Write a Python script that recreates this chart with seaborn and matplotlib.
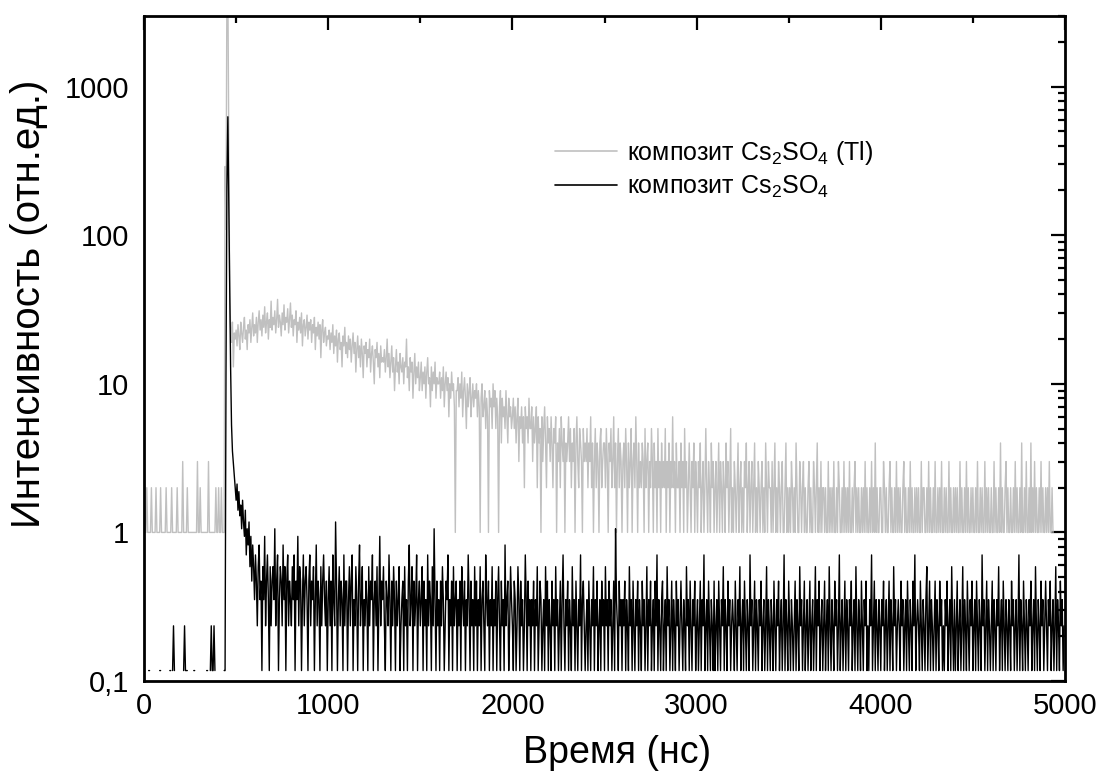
import numpy as np
import pandas as pd
import matplotlib
matplotlib.use("Agg")
import matplotlib.pyplot as plt
import seaborn as sns
from matplotlib.ticker import FixedLocator, MultipleLocator, LogLocator, FuncFormatter, NullFormatter

# ---------------- data ----------------
time_step_ns = 5
black_scale = 0.1176  # counts -> relative units for the undoped composite

# Cs2SO4 (Tl) composite, counts per 5 ns channel (row = 100 ns, starting at 0 ns)
gray_counts = [
    5, 1, 1, 2, 1, 1, 1, 1, 2, 1, 1, 1, 1, 2, 1, 1, 1, 1, 2, 1,
    1, 1, 1, 1, 2, 1, 1, 1, 1, 1, 2, 1, 1, 1, 1, 1, 2, 1, 1, 1,
    1, 1, 3, 1, 1, 1, 1, 2, 1, 1, 1, 1, 1, 1, 1, 1, 1, 1, 3, 1,
    1, 2, 1, 1, 1, 1, 1, 1, 1, 1, 3, 1, 1, 1, 1, 1, 1, 1, 2, 1,
    1, 2, 1, 1, 2, 1, 1, 1, 290, 110, 5000, 5000, 500, 40, 24, 19, 26, 13, 22, 20,
    23, 18, 25, 21, 17, 26, 22, 19, 24, 28, 20, 23, 17, 25, 22, 27, 19, 24, 30, 21,
    25, 22, 28, 19, 26, 31, 23, 27, 21, 29, 24, 33, 22, 26, 30, 20, 27, 24, 36, 23,
    28, 25, 31, 22, 27, 37, 24, 29, 26, 21, 30, 25, 34, 23, 28, 26, 32, 22, 27, 35,
    24, 29, 21, 27, 25, 31, 19, 26, 23, 28, 22, 30, 18, 25, 27, 21, 24, 29, 20, 26,
    23, 27, 19, 25, 22, 28, 17, 24, 21, 26, 20, 25, 15, 23, 27, 19, 22, 24, 18, 21,
    20, 23, 17, 22, 19, 25, 16, 21, 18, 23, 14, 20, 22, 17, 19, 13, 21, 18, 24, 16,
    19, 15, 21, 17, 20, 14, 18, 22, 16, 19, 12, 17, 21, 15, 18, 13, 20, 16, 11, 18,
    16, 19, 13, 17, 15, 20, 12, 16, 18, 14, 10, 17, 15, 19, 13, 16, 11, 18, 14, 15,
    14, 17, 12, 15, 20, 13, 16, 11, 14, 18, 12, 15, 9, 13, 17, 12, 14, 10, 16, 13,
    12, 15, 10, 14, 13, 20, 11, 13, 9, 15, 12, 14, 8, 12, 16, 10, 13, 11, 14, 9,
    11, 14, 9, 12, 10, 13, 8, 12, 15, 10, 11, 7, 13, 9, 12, 10, 14, 8, 11, 10,
    10, 12, 8, 11, 9, 13, 7, 10, 12, 9, 11, 6, 10, 8, 12, 9, 10, 7, 1, 9,
    9, 11, 7, 10, 8, 12, 6, 9, 11, 8, 5, 10, 7, 9, 11, 6, 8, 10, 7, 9,
    8, 10, 6, 9, 7, 1, 8, 10, 6, 7, 9, 5, 8, 6, 1, 9, 7, 8, 5, 10,
    7, 9, 5, 8, 6, 1, 7, 9, 4, 8, 6, 7, 5, 9, 6, 4, 8, 6, 7, 5,
    6, 8, 5, 7, 4, 6, 8, 3, 6, 5, 7, 4, 6, 2, 7, 5, 6, 4, 8, 5,
    5, 7, 3, 6, 4, 5, 7, 2, 6, 4, 5, 1, 6, 3, 5, 7, 4, 2, 6, 4,
    5, 3, 6, 4, 2, 5, 4, 6, 1, 4, 3, 5, 2, 6, 4, 3, 5, 1, 4, 3,
    4, 6, 3, 5, 2, 4, 3, 5, 1, 4, 6, 3, 2, 5, 4, 3, 1, 5, 3, 4,
    3, 5, 2, 4, 3, 6, 2, 4, 1, 3, 5, 2, 4, 3, 1, 4, 5, 2, 3, 4,
    4, 2, 5, 3, 1, 4, 3, 5, 2, 3, 6, 2, 4, 1, 3, 5, 2, 4, 3, 1,
    3, 4, 2, 5, 3, 1, 4, 2, 3, 5, 1, 3, 4, 2, 6, 3, 1, 4, 2, 3,
    2, 4, 3, 1, 5, 2, 3, 4, 1, 3, 2, 5, 3, 1, 4, 2, 3, 1, 5, 2,
    3, 1, 4, 2, 3, 2, 5, 1, 3, 2, 4, 1, 3, 2, 6, 2, 3, 1, 4, 2,
    2, 3, 1, 4, 2, 3, 1, 5, 2, 3, 1, 2, 4, 2, 1, 3, 2, 4, 1, 3,
    2, 1, 3, 2, 4, 1, 2, 3, 1, 2, 5, 2, 1, 3, 2, 1, 4, 2, 3, 1,
    2, 3, 1, 2, 4, 1, 3, 2, 1, 3, 2, 1, 4, 2, 3, 1, 2, 5, 1, 2,
    1, 3, 2, 1, 2, 4, 1, 2, 3, 1, 2, 1, 3, 2, 4, 1, 2, 3, 1, 2,
    3, 1, 2, 4, 1, 2, 1, 3, 2, 1, 2, 3, 1, 2, 1, 4, 2, 1, 3, 2,
    2, 1, 3, 1, 2, 4, 1, 2, 1, 3, 2, 1, 2, 3, 1, 1, 2, 4, 1, 2,
    1, 2, 1, 3, 2, 1, 2, 1, 4, 2, 1, 1, 3, 2, 1, 2, 3, 1, 2, 1,
    1, 2, 3, 1, 2, 1, 1, 3, 2, 1, 2, 4, 1, 2, 1, 3, 1, 2, 2, 1,
    2, 1, 1, 3, 1, 2, 1, 2, 1, 3, 1, 1, 2, 1, 3, 2, 1, 1, 2, 1,
    3, 1, 2, 1, 2, 1, 3, 1, 1, 2, 1, 2, 3, 1, 2, 1, 2, 1, 1, 2,
    1, 2, 1, 3, 1, 2, 1, 1, 2, 1, 3, 1, 2, 1, 4, 1, 2, 1, 1, 2,
    2, 1, 1, 3, 2, 1, 2, 1, 1, 2, 3, 1, 2, 1, 1, 2, 1, 3, 1, 2,
    1, 2, 1, 1, 2, 3, 1, 2, 1, 1, 2, 1, 3, 1, 2, 1, 1, 2, 1, 2,
    1, 2, 1, 1, 3, 1, 2, 2, 1, 1, 2, 1, 3, 1, 2, 1, 1, 2, 1, 3,
    1, 1, 2, 1, 2, 1, 3, 1, 1, 2, 1, 2, 1, 1, 3, 1, 2, 1, 1, 2,
    1, 2, 1, 2, 1, 1, 3, 1, 2, 1, 1, 2, 1, 3, 1, 2, 1, 1, 2, 1,
    2, 1, 1, 2, 1, 3, 1, 1, 2, 1, 2, 1, 1, 3, 1, 2, 1, 2, 1, 1,
    2, 1, 1, 3, 1, 2, 1, 1, 2, 1, 4, 1, 2, 1, 1, 2, 3, 1, 2, 1,
    1, 2, 1, 1, 2, 1, 3, 1, 2, 1, 1, 2, 1, 4, 1, 1, 2, 1, 3, 1,
    1, 2, 1, 4, 1, 2, 1, 3, 1, 2, 1, 1, 2, 1, 3, 1, 2, 1, 1, 2,
    1, 2, 1, 3, 1, 1, 2, 1,
]

# Cs2SO4 composite, counts per 5 ns channel (row = 100 ns, starting at 0 ns)
black_counts = [
    0, 0, 1, 0, 0, 1, 1, 0, 0, 0, 1, 0, 0, 1, 0, 0, 0, 1, 1, 0,
    0, 1, 0, 0, 1, 0, 0, 0, 1, 1, 0, 1, 2, 1, 0, 0, 0, 0, 1, 0,
    0, 1, 0, 1, 2, 1, 1, 1, 0, 0, 0, 1, 0, 0, 1, 1, 0, 0, 0, 1,
    0, 0, 1, 0, 0, 1, 0, 0, 1, 1, 0, 0, 1, 2, 1, 1, 2, 1, 0, 1,
    0, 0, 1, 0, 0, 1, 0, 1, 1, 100, 1800, 5330, 1500, 400, 110, 45, 30, 25, 21, 17,
    14, 18, 12, 16, 11, 13, 9, 14, 10, 8, 12, 6, 9, 7, 10, 5, 8, 4, 7, 5,
    3, 6, 4, 2, 5, 7, 3, 4, 1, 5, 3, 8, 2, 4, 6, 3, 1, 5, 2, 4,
    5, 3, 9, 2, 4, 6, 1, 3, 5, 4, 2, 7, 3, 5, 1, 4, 6, 2, 4, 3,
    2, 5, 3, 6, 1, 4, 3, 8, 2, 5, 4, 1, 3, 6, 2, 4, 5, 3, 1, 4,
    6, 2, 4, 3, 5, 1, 3, 7, 2, 4, 3, 1, 5, 2, 4, 6, 3, 2, 4, 1,
    3, 5, 2, 4, 1, 6, 3, 2, 10, 4, 1, 3, 5, 2, 4, 3, 1, 6, 2, 4,
    4, 1, 3, 5, 2, 4, 6, 1, 3, 2, 5, 3, 1, 4, 7, 2, 3, 5, 1, 3,
    2, 4, 3, 1, 5, 2, 4, 3, 6, 1, 3, 4, 2, 5, 1, 3, 8, 2, 4, 3,
    5, 2, 1, 4, 3, 2, 6, 3, 1, 4, 2, 5, 3, 1, 4, 2, 3, 5, 1, 2,
    3, 4, 1, 5, 2, 3, 1, 4, 7, 2, 3, 5, 1, 4, 2, 3, 6, 1, 3, 4,
    2, 3, 5, 1, 4, 2, 3, 1, 6, 2, 4, 3, 1, 5, 2, 9, 3, 1, 4, 2,
    3, 1, 4, 2, 5, 3, 1, 2, 4, 3, 6, 1, 3, 2, 4, 1, 5, 2, 3, 4,
    1, 3, 2, 4, 1, 5, 3, 2, 4, 1, 3, 2, 6, 3, 1, 4, 2, 3, 1, 5,
    2, 4, 1, 3, 2, 5, 1, 3, 4, 2, 1, 6, 3, 2, 4, 1, 3, 2, 5, 1,
    3, 2, 4, 1, 3, 5, 2, 1, 4, 2, 3, 1, 7, 2, 3, 4, 1, 2, 5, 3,
    2, 1, 4, 3, 1, 2, 5, 3, 1, 4, 2, 3, 1, 2, 6, 3, 1, 4, 2, 3,
    1, 3, 2, 4, 1, 3, 2, 5, 1, 2, 4, 3, 1, 2, 3, 1, 5, 2, 4, 1,
    3, 2, 1, 4, 2, 3, 1, 5, 2, 3, 1, 2, 4, 1, 3, 6, 2, 1, 3, 2,
    4, 1, 3, 2, 1, 5, 2, 3, 1, 4, 2, 1, 3, 2, 6, 1, 3, 4, 2, 1,
    2, 3, 1, 4, 2, 1, 3, 2, 5, 1, 3, 2, 4, 1, 2, 3, 1, 4, 2, 3,
    1, 5, 2, 3, 1, 4, 2, 3, 1, 2, 4, 1, 9, 3, 2, 1, 4, 2, 3, 1,
    3, 2, 4, 1, 3, 2, 1, 5, 2, 3, 1, 4, 2, 1, 3, 2, 4, 1, 3, 2,
    1, 4, 2, 3, 1, 2, 5, 1, 3, 2, 4, 1, 2, 3, 1, 4, 2, 6, 1, 3,
    2, 1, 3, 4, 1, 2, 3, 1, 5, 2, 3, 1, 2, 4, 1, 3, 2, 1, 4, 2,
    3, 1, 2, 4, 2, 1, 3, 2, 1, 5, 2, 3, 1, 4, 2, 1, 3, 2, 4, 1,
    2, 3, 1, 2, 4, 1, 3, 2, 6, 1, 2, 3, 1, 4, 2, 1, 3, 2, 1, 4,
    1, 2, 3, 1, 4, 2, 1, 3, 2, 5, 1, 3, 2, 1, 4, 2, 3, 1, 2, 3,
    2, 1, 4, 2, 1, 3, 2, 5, 1, 2, 3, 1, 4, 2, 1, 3, 2, 1, 6, 2,
    3, 1, 2, 4, 1, 3, 2, 1, 3, 2, 4, 1, 2, 3, 1, 2, 5, 1, 3, 2,
    1, 3, 2, 1, 4, 2, 1, 3, 2, 4, 1, 2, 3, 1, 2, 6, 1, 3, 2, 1,
    4, 2, 1, 3, 2, 1, 2, 4, 1, 3, 2, 1, 5, 2, 3, 1, 2, 4, 1, 2,
    3, 1, 2, 4, 1, 2, 3, 1, 2, 5, 1, 3, 2, 4, 1, 2, 3, 1, 2, 4,
    1, 2, 3, 1, 5, 2, 1, 3, 2, 1, 4, 2, 3, 1, 2, 6, 1, 2, 3, 1,
    2, 4, 1, 3, 2, 1, 3, 2, 4, 1, 2, 3, 1, 5, 2, 1, 3, 2, 1, 4,
    2, 1, 3, 2, 4, 1, 2, 1, 3, 2, 6, 1, 2, 4, 1, 3, 2, 1, 3, 2,
    1, 3, 2, 4, 1, 2, 3, 1, 2, 4, 1, 3, 2, 1, 5, 2, 3, 1, 2, 3,
    2, 1, 4, 2, 3, 1, 2, 3, 1, 4, 2, 1, 3, 2, 1, 4, 2, 6, 1, 2,
    3, 2, 1, 4, 2, 1, 3, 2, 1, 3, 5, 1, 2, 4, 1, 3, 2, 1, 2, 4,
    1, 3, 2, 1, 4, 2, 3, 1, 2, 1, 3, 2, 4, 1, 2, 3, 1, 5, 2, 1,
    3, 1, 2, 4, 1, 2, 3, 1, 2, 5, 1, 3, 2, 1, 4, 2, 1, 3, 2, 4,
    1, 2, 3, 1, 4, 2, 1, 3, 2, 1, 6, 2, 3, 1, 2, 4, 1, 3, 2, 1,
    2, 4, 1, 3, 2, 1, 3, 2, 5, 1, 2, 3, 1, 4, 2, 1, 3, 2, 1, 3,
    2, 1, 4, 2, 3, 1, 2, 3, 1, 2, 6, 1, 3, 2, 1, 4, 2, 1, 3, 2,
    1, 3, 2, 4, 1, 2, 3, 1, 5, 2, 1, 3, 2, 1, 4, 2, 3, 1, 2, 4,
    2, 1, 3, 2, 4, 1, 2, 3, 1, 2, 5, 1, 3, 2, 1, 4, 2, 3, 1, 2,
]

series_labels = [r"композит Cs$_2$SO$_4$ (Tl)", r"композит Cs$_2$SO$_4$"]
y_ticks = [0.1, 1, 10, 100, 1000]
y_tick_labels = ["0,1", "1", "10", "100", "1000"]
x_ticks = [0, 1000, 2000, 3000, 4000, 5000]

# ---------------- frame ----------------
gray = np.asarray(gray_counts, dtype=float)
black = np.asarray(black_counts, dtype=float) * black_scale
df = pd.concat([
    pd.DataFrame({"t": np.arange(len(gray)) * time_step_ns, "I": gray, "s": series_labels[0]}),
    pd.DataFrame({"t": np.arange(len(black)) * time_step_ns, "I": black, "s": series_labels[1]}),
], ignore_index=True)

# ---------------- style ----------------
sns.set_theme(style="white")
plt.rcParams["font.family"] = ["Liberation Sans", "DejaVu Sans"]
plt.rcParams["mathtext.fontset"] = "custom"
plt.rcParams["mathtext.rm"] = "Liberation Sans"
plt.rcParams["mathtext.it"] = "Liberation Sans:italic"
plt.rcParams["mathtext.default"] = "regular"
for k in ["text.color", "axes.labelcolor", "xtick.color", "ytick.color", "axes.edgecolor"]:
    plt.rcParams[k] = "black"

fig = plt.figure(figsize=(11.02, 7.71), dpi=100)
ax = fig.add_axes([0.1307, 0.1167, 0.8357, 0.8629])

sns.lineplot(data=df, x="t", y="I", hue="s", palette=["#c0c0c0", "#000000"],
             estimator=None, sort=False, linewidth=1.0, ax=ax, legend=True)

ax.set_yscale("log", nonpositive="mask")
ax.set_xlim(0, 5000)
ax.set_ylim(0.1, 3000)

ax.xaxis.set_major_locator(FixedLocator(x_ticks))
ax.xaxis.set_minor_locator(MultipleLocator(500))
ax.yaxis.set_major_locator(FixedLocator(y_ticks))
ax.yaxis.set_major_formatter(FuncFormatter(lambda v, p: dict(zip(y_ticks, y_tick_labels)).get(v, "")))
ax.yaxis.set_minor_locator(LogLocator(base=10, subs=np.arange(2, 10), numticks=20))
ax.yaxis.set_minor_formatter(NullFormatter())

ax.tick_params(which="both", direction="in", top=True, right=True, colors="black", width=1.6)
ax.tick_params(which="major", length=10, labelsize=21)
ax.tick_params(which="minor", length=5)
ax.tick_params(axis="x", which="major", pad=8)
ax.tick_params(axis="y", which="major", pad=11)
for sp in ax.spines.values():
    sp.set_color("black")
    sp.set_linewidth(2.0)

ax.set_xlabel("Время (нс)", fontsize=27)
ax.set_ylabel("Интенсивность (отн.ед.)", fontsize=29)
ax.xaxis.set_label_coords(0.514, -0.081)
ax.yaxis.set_label_coords(-0.104, 0.567)

leg = ax.legend(loc="upper left", bbox_to_anchor=(0.446, 0.815), frameon=False,
                fontsize=18, handlelength=2.5, handletextpad=0.4, labelspacing=0.28,
                borderaxespad=0, borderpad=0)
for line in leg.get_lines():
    line.set_linewidth(1.2)

fig.savefig("out.png", dpi=100)
